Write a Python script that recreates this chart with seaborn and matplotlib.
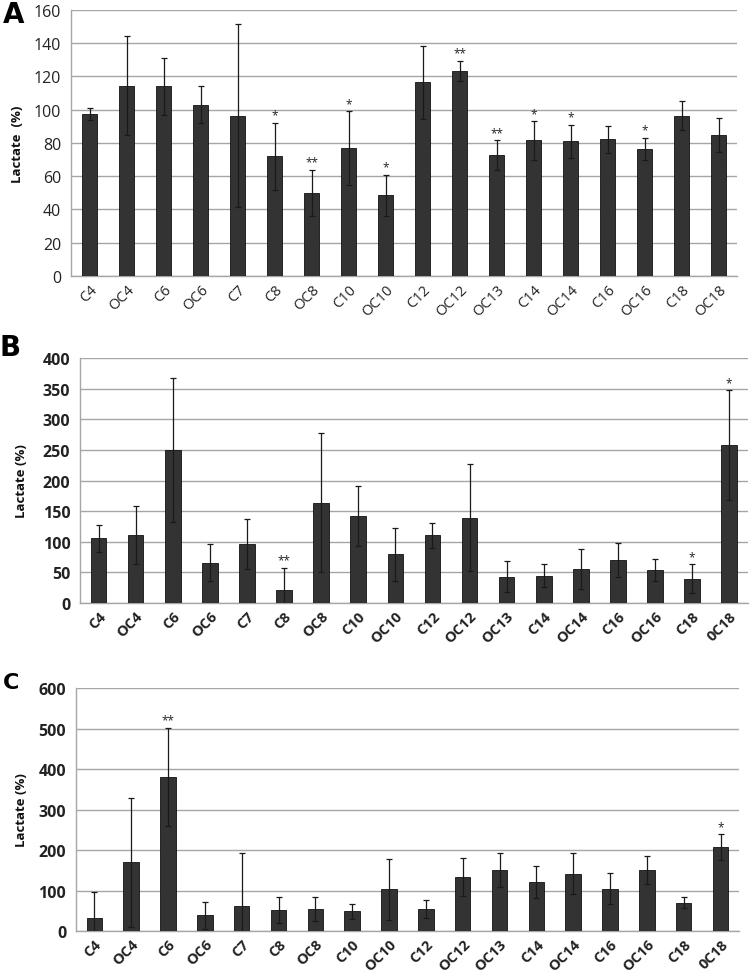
import matplotlib
matplotlib.use("Agg")
import matplotlib.pyplot as plt
import seaborn as sns
import pandas as pd
import numpy as np

# categories (panel B and C spell the last one "0C18")
cats_a = ["C4", "OC4", "C6", "OC6", "C7", "C8", "OC8", "C10", "OC10",
          "C12", "OC12", "OC13", "C14", "OC14", "C16", "OC16", "C18", "OC18"]
cats_bc = cats_a[:-1] + ["0C18"]

# panel A
mean_a = [97.5, 114.5, 114, 103, 96.5, 72, 50, 77, 48.5,
          116.5, 123.3, 72.5, 81.5, 81, 82.3, 76.5, 96.4, 85]
err_a = [3.5, 30, 17, 11, 55, 20, 14, 22, 12.5,
         22, 6, 9, 11.5, 10, 8.2, 6.5, 8.7, 10.3]
stars_a = ["", "", "", "", "", "*", "**", "*", "*",
           "", "**", "**", "*", "*", "", "*", "", ""]

# panel B
mean_b = [105.6, 111, 250, 66, 96, 20.7, 164, 142, 79.5,
          110.5, 139.3, 43, 44.6, 55.5, 70.7, 53.9, 39.7, 257.4]
err_b = [22, 47, 117, 30, 41, 37, 114, 49.5, 43,
         20, 87, 25.6, 19, 33, 28, 18.5, 23.5, 90]
stars_b = ["", "", "", "", "", "**", "", "", "",
           "", "", "", "", "", "", "", "*", "*"]

# panel C
mean_c = [31, 170, 380, 38.7, 61, 51, 54.4, 48.6, 103,
          54.4, 133.5, 150.8, 121, 141.8, 104.7, 150.8, 70, 207]
err_c = [66, 159, 121, 33, 131, 32, 29, 18, 76,
         22, 46, 43, 40, 50, 38, 34, 14, 32]
stars_c = ["", "", "**", "", "", "", "", "", "",
           "", "", "", "", "", "", "", "", "*"]

sns.set_style("white")
plt.rcParams["font.family"] = ["Open Sans", "DejaVu Sans"]

fig = plt.figure(figsize=(7.5, 9.79), dpi=100)

panels = [
    # letter, cats, mean, err, stars, ymax, step, rect, bold ticks, letter pos/size, ylabel, ylabel x
    ("A", cats_a, mean_a, err_a, stars_a, 160, 20,
     [0.0947, 0.7171, 0.888, 0.2717], False, (0.004, 0.999, 20), "Lactate  (%)", 0.024),
    ("B", cats_bc, mean_b, err_b, stars_b, 400, 50,
     [0.1067, 0.3830, 0.8903, 0.2503], True, (0.0, 0.659, 20), "Lactate (%)", 0.029),
    ("C", cats_bc, mean_c, err_c, stars_c, 600, 100,
     [0.1013, 0.0480, 0.884, 0.2482], True, (0.004, 0.313, 16), "Lactate (%)", 0.029),
]

for letter, cats, mean, err, stars, ymax, step, rect, bold, lpos, ylab, ylx in panels:
    ax = fig.add_axes(rect)
    df = pd.DataFrame({"cat": cats, "val": mean})
    sns.barplot(data=df, x="cat", y="val", ax=ax, color="#333333",
                saturation=1, width=0.42, edgecolor="#111111", linewidth=0.6,
                errorbar=None, zorder=3)
    ax.errorbar(cats, mean, yerr=err, fmt="none", ecolor="#1a1a1a",
                elinewidth=0.9, capsize=2.2, capthick=0.9, zorder=4)
    for i, s in enumerate(stars):
        if s:
            ax.annotate(s, (i, mean[i] + err[i]), xytext=(0, 1),
                        textcoords="offset points", ha="center", va="bottom",
                        fontsize=8.5, color="#222222")

    ax.set_ylim(0, ymax)
    ax.set_xlim(-0.5, len(cats) - 0.5)
    ax.set_yticks(np.arange(0, ymax + 1, step))
    ax.yaxis.grid(True, color="#a6a6a6", linewidth=1.0, zorder=0)
    ax.set_axisbelow(True)
    for side in ["top", "right"]:
        ax.spines[side].set_visible(False)
    for side in ["left", "bottom"]:
        ax.spines[side].set_color("#a6a6a6")
        ax.spines[side].set_linewidth(1.0)

    # tick marks between categories, labels on categories
    ax.set_xticks(np.arange(-0.5, len(cats), 1.0), minor=True)
    ax.tick_params(axis="x", which="major", length=0, pad=4)
    ax.tick_params(axis="x", which="minor", length=4, color="#a6a6a6", width=1)
    ax.tick_params(axis="y", length=4, color="#a6a6a6", width=1, pad=3)

    weight = "bold" if bold else "normal"
    ax.set_xticks(range(len(cats)))
    ax.set_xticklabels(cats, rotation=45, ha="right", rotation_mode="anchor",
                       fontsize=10.5, fontweight=weight, color="#222222")
    for lab in ax.get_yticklabels():
        lab.set_fontsize(11.5)
        lab.set_fontweight(weight)
        lab.set_color("#222222")

    ax.set_xlabel("")
    ax.set_ylabel("")
    fig.text(ylx, rect[1] + rect[3] / 2, ylab, rotation=90, ha="center",
             va="center", fontsize=9.5, fontweight="bold", color="#111111")
    fig.text(lpos[0], lpos[1], letter, ha="left", va="top",
             fontsize=lpos[2], fontweight="bold", color="black",
             family=["DejaVu Sans"])

fig.savefig("out.png", dpi=100, facecolor="white")
